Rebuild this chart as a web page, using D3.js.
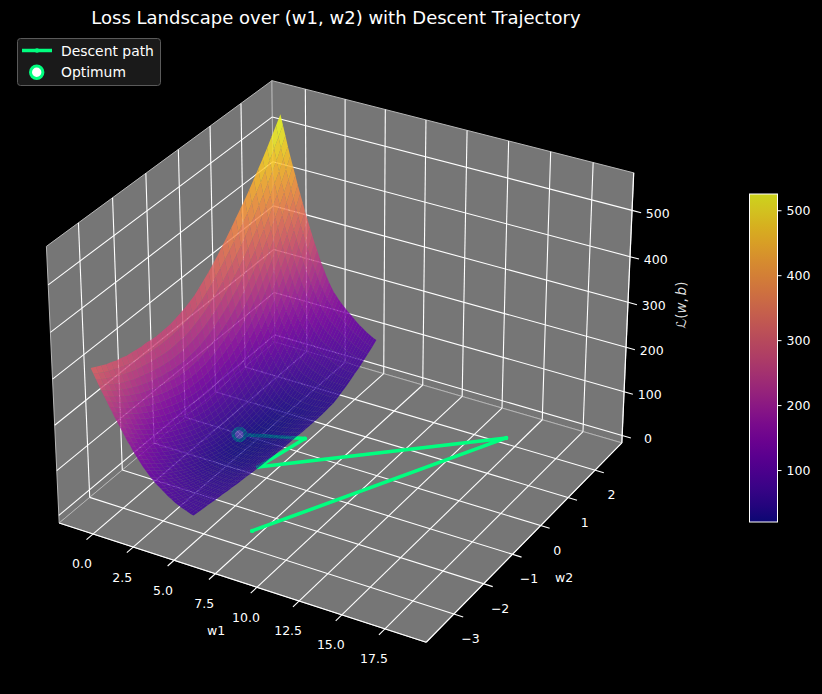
<!DOCTYPE html>
<html>
<head>
<meta charset="utf-8">
<script src="https://cdn.jsdelivr.net/npm/d3@7"></script>
<style>
body { margin: 0; background: #000; }
text { font-family: "DejaVu Sans", sans-serif; fill: #fff; }
</style>
</head>
<body>
<div id="graph"></div>
<script>
var w = 822, h = 694;

var w1Ticks = [0, 2.5, 5, 7.5, 10, 12.5, 15, 17.5];
var w2Ticks = [-3, -2, -1, 0, 1, 2];
var lossTicks = [0, 100, 200, 300, 400, 500];
var barTicks = [100, 200, 300, 400, 500];

var pathW1 = [7.42, 14.53, 4.42, 5.12, 2.53];
var pathW2 = [-2.72, 1.96, -0.97, 0.22, -0.59];
var pathLoss = [0, 0, 0, 0, 30];
var optimum = [2.53, -0.59, 30];

var w1Grid = [-0.46,-0.31,-0.16,-0.01,0.14,0.30,0.45,0.60,0.75,0.90,1.05,1.20,1.35,1.50,1.65,1.81,1.96,2.11,2.26,2.41,2.56,2.71,2.86,3.01,3.16,3.32,3.47,3.62,3.77,3.92,4.07,4.22,4.37,4.52,4.67,4.83,4.98,5.13,5.28,5.43,5.58];
var w2Grid = [-3.58,-3.43,-3.28,-3.13,-2.98,-2.83,-2.68,-2.53,-2.38,-2.23,-2.08,-1.93,-1.78,-1.63,-1.48,-1.33,-1.18,-1.03,-0.88,-0.73,-0.58,-0.42,-0.27,-0.12,0.03,0.18,0.33,0.48,0.63,0.78,0.93,1.08,1.23,1.38,1.53,1.68,1.83,1.98,2.13,2.28,2.43];

// loss, one row per w2, one column per w1
var lossGrid = [
	[322,311,301,290,280,270,260,250,241,231,222,213,204,195,186,178,169,162,154,147,140,134,128,122,117,112,108,104,100,96,92,89,85,82,80,77,75,73,71,69,68],
	[316,304,293,282,271,260,250,240,230,220,211,202,192,184,175,167,159,151,144,137,130,124,119,113,109,104,100,96,93,89,86,83,80,77,75,73,71,70,68,67,66],
	[310,297,285,274,262,251,240,230,220,210,200,191,182,173,164,156,148,141,134,127,121,115,110,105,101,96,93,89,86,83,80,77,75,73,71,69,68,66,66,65,64],
	[304,291,279,266,254,243,231,220,210,200,190,180,171,163,154,146,138,131,124,118,112,106,101,97,93,89,86,83,80,77,75,72,70,68,67,65,64,64,63,63,63],
	[300,286,272,259,247,235,223,212,201,190,180,171,162,153,144,136,129,122,115,109,103,98,93,89,85,82,79,76,74,72,69,67,66,64,63,62,61,61,61,61,61],
	[295,281,267,253,240,227,215,204,192,182,171,162,152,144,135,127,120,113,107,101,95,90,86,82,78,75,73,70,68,66,65,63,61,60,59,59,58,58,58,59,59],
	[292,276,262,247,234,221,208,196,184,173,163,153,144,135,127,119,112,105,99,93,88,83,79,75,72,69,67,65,63,61,60,58,57,56,56,56,55,56,56,57,58],
	[288,272,257,242,228,214,201,189,177,166,155,145,136,127,119,111,104,97,91,86,81,76,72,69,66,63,61,60,58,57,55,54,54,53,53,53,53,53,54,55,56],
	[286,269,253,238,223,209,195,182,170,159,148,138,128,119,111,104,97,90,84,79,74,69,66,63,60,58,56,54,52,51,51,50,50,50,50,50,50,51,52,53,55],
	[284,266,250,234,218,204,190,177,164,152,141,131,121,112,104,97,90,84,78,73,68,63,60,57,55,53,51,50,49,48,48,47,47,47,47,47,48,49,50,52,53],
	[282,264,247,230,214,199,185,171,158,146,135,124,115,106,98,90,84,78,72,67,62,58,54,52,50,48,47,46,45,44,44,44,44,44,45,45,46,47,48,50,52],
	[282,262,244,227,211,195,180,166,153,141,129,119,109,100,92,84,78,72,66,61,57,53,49,47,45,43,42,42,41,41,41,41,41,41,42,42,44,45,47,49,51],
	[280,261,242,224,207,191,176,162,148,136,124,113,103,94,86,79,72,66,61,56,52,48,45,42,41,39,39,38,38,38,38,38,38,38,39,40,42,43,45,47,49],
	[279,259,240,222,205,188,173,158,144,131,118,108,98,89,81,74,67,61,56,51,47,43,40,38,36,35,35,35,35,35,35,35,35,36,37,38,40,41,43,46,48],
	[279,259,239,220,202,185,169,154,140,127,115,103,93,84,76,69,63,57,52,47,43,39,36,34,33,32,32,32,32,32,32,32,32,33,34,36,38,40,42,44,47],
	[280,259,238,219,201,183,167,152,137,123,111,99,89,80,72,65,58,52,47,43,39,35,33,31,30,29,29,29,29,29,29,30,30,31,32,33,35,38,41,43,46],
	[281,260,239,219,200,182,165,149,134,121,108,96,86,77,69,61,55,49,44,40,36,32,30,28,27,26,26,26,26,27,27,28,29,30,32,33,35,37,39,42,45],
	[284,261,240,219,200,181,164,148,133,119,106,94,83,74,66,59,52,47,42,37,33,30,27,26,25,24,24,25,25,26,26,27,28,29,30,32,34,36,38,41,44],
	[287,264,241,221,201,182,164,148,132,118,104,92,82,72,64,57,50,45,40,35,31,28,25,24,23,23,23,23,24,24,25,26,27,28,29,31,33,35,38,41,44],
	[291,267,244,223,203,183,165,148,132,118,104,92,81,72,63,56,49,44,39,34,30,27,24,22,22,22,22,22,23,24,24,25,26,27,29,30,32,34,37,40,42],
	[296,272,249,227,206,186,167,150,134,119,105,92,81,72,63,56,49,44,39,34,30,27,24,21,21,21,21,22,22,23,24,25,26,27,28,30,32,34,36,39,42],
	[302,277,254,231,210,190,171,153,136,121,107,94,83,73,64,57,50,44,39,35,30,27,24,22,21,21,22,22,23,23,24,25,26,27,28,30,32,34,36,39,42],
	[310,284,260,237,215,194,175,157,140,124,109,96,85,75,66,58,51,46,40,36,31,28,25,23,22,22,22,22,23,23,24,25,25,26,28,29,31,33,36,38,41],
	[319,292,267,243,221,200,180,161,144,127,112,99,87,77,68,60,53,47,42,37,33,29,26,24,23,23,23,23,24,24,25,26,27,28,29,31,33,35,36,38,40],
	[328,301,275,251,228,206,186,166,148,132,117,103,91,80,71,62,56,50,44,39,35,31,28,26,24,24,24,24,25,25,26,27,28,29,30,31,33,34,35,37,40],
	[338,311,284,259,236,213,192,173,154,137,121,107,95,84,74,65,58,52,46,41,37,33,30,28,26,25,25,25,26,26,26,27,28,29,31,32,34,35,37,38,40],
	[349,321,294,269,244,221,200,180,161,144,128,113,100,89,79,70,62,55,49,44,40,36,33,31,29,28,27,27,27,27,28,28,29,30,31,32,33,34,36,38,40],
	[361,332,305,279,254,231,209,188,169,151,135,120,106,95,85,76,68,61,55,50,45,41,37,35,33,31,30,30,30,29,30,30,30,31,31,33,34,35,36,38,40],
	[373,344,316,290,265,241,219,198,178,160,144,128,115,103,93,84,76,69,63,57,51,46,42,39,36,35,33,33,33,33,33,33,33,33,34,35,36,37,38,39,41],
	[385,356,328,302,276,252,230,209,189,171,154,138,125,113,102,93,84,76,70,64,58,53,49,45,43,41,40,39,38,37,37,36,36,36,36,37,37,38,39,40,42],
	[398,369,341,314,289,265,242,221,201,182,165,149,135,123,112,102,92,85,78,72,66,60,56,52,49,46,45,43,42,41,41,40,40,40,40,41,41,41,42,42,43],
	[411,382,354,327,302,278,255,234,214,195,178,162,148,135,124,114,105,96,89,82,75,69,65,61,58,55,53,51,49,48,47,46,45,45,45,45,45,45,46,47,47],
	[424,395,368,341,316,292,270,249,228,210,192,176,161,148,137,126,117,108,100,92,85,79,74,70,66,64,62,60,58,57,55,54,52,51,51,51,51,50,51,51,52],
	[438,410,383,356,332,308,285,264,244,225,207,191,176,163,151,140,130,120,112,104,97,90,85,80,76,73,71,68,66,65,63,61,59,58,57,57,56,56,56,56,56],
	[453,425,398,372,348,324,302,281,261,242,224,208,192,179,166,155,144,134,125,117,109,102,96,91,87,84,81,78,76,74,71,69,67,66,64,63,62,62,62,62,62],
	[468,440,414,389,365,342,319,298,279,260,242,225,210,196,183,171,159,149,139,131,122,115,108,103,99,96,92,89,86,83,81,78,76,74,72,71,69,68,68,68,68],
	[483,457,431,406,383,360,338,317,298,279,261,244,229,214,200,188,176,165,155,145,137,129,122,116,111,107,103,100,97,94,91,88,85,83,80,78,77,75,75,74,73],
	[499,473,449,425,401,379,358,337,318,299,281,264,249,234,219,206,194,182,171,161,152,144,136,130,125,120,116,112,109,105,102,98,95,92,89,87,85,83,82,81,80],
	[516,491,467,444,421,400,379,359,339,321,303,286,270,254,240,226,213,200,189,178,168,159,152,145,139,134,129,125,121,117,113,110,106,102,99,96,94,92,90,88,87],
	[533,509,486,464,442,421,401,381,362,344,326,309,292,276,261,247,233,220,207,196,186,176,168,161,155,149,144,139,135,130,126,121,117,113,110,106,103,100,98,96,94],
	[550,528,506,484,464,443,424,404,386,368,350,333,316,300,284,269,254,240,227,215,204,194,185,178,171,165,159,154,149,144,139,134,129,125,121,117,113,110,107,104,102]
];

var xLim = [-2.12, 19.86], yLim = [-3.915, 3.025], zLim = [-17, 580];
var k = 1.8294640721620434 / Math.sqrt(41);
var xBox = d3.scaleLinear().domain(xLim).range([0, 4 * k]);
var yBox = d3.scaleLinear().domain(yLim).range([0, 4 * k]);
var zBox = d3.scaleLinear().domain(zLim).range([0, 3 * k]);
var sx = d3.scaleLinear().domain([0, 1]).range([345.5, 345.5 + 3680]);
var sy = d3.scaleLinear().domain([0, 1]).range([348.5, 348.5 - 3680]);

// elev 30, azim -60 camera
var cx = 2 * k, cy = 2 * k, cz = 1.5 * k;
function view(a, b, c) {
	var dx = xBox(a) - cx, dy = yBox(b) - cy, dz = zBox(c) - cz;
	return {
		x: 0.8660254 * dx + 0.5 * dy,
		y: -0.25 * dx + 0.4330127 * dy + 0.8660254 * dz,
		z: 0.4330127 * dx - 0.75 * dy + 0.5 * dz
	};
}
function proj(a, b, c) {
	var v = view(a, b, c);
	var d = 10 - v.z;
	return [sx(v.x / d), sy(v.y / d)];
}
var line = d3.line();

var svg = d3.select("#graph").append("svg")
	.attr("width", w)
	.attr("height", h)
	.style("display", "block");
svg.append("rect").attr("width", w).attr("height", h).attr("fill", "#000");

function pane(pts) {
	svg.append("path")
		.attr("d", line(pts.map(function(p) { return proj(p[0], p[1], p[2]); })) + "Z")
		.attr("fill", "#767676")
		.attr("stroke", "#b4b4b4")
		.attr("stroke-width", 1);
}
var x0 = xLim[0], x1 = xLim[1], y0 = yLim[0], y1 = yLim[1], z0 = zLim[0], z1 = zLim[1];
pane([[x0,y0,z0],[x0,y1,z0],[x0,y1,z1],[x0,y0,z1]]);
pane([[x0,y1,z0],[x1,y1,z0],[x1,y1,z1],[x0,y1,z1]]);
pane([[x0,y0,z0],[x1,y0,z0],[x1,y1,z0],[x0,y1,z0]]);

function seg(a, b, sw) {
	svg.append("path")
		.attr("d", line([proj(a[0],a[1],a[2]), proj(b[0],b[1],b[2])]))
		.attr("stroke", "#fff")
		.attr("stroke-width", sw || 1.1)
		.attr("fill", "none");
}
function label(txt, x, y, size) {
	return svg.append("text").text(txt)
		.attr("x", x)
		.attr("y", y)
		.attr("text-anchor", "middle")
		.attr("font-size", size || 12.5);
}
var xStub = (x1 - x0) * 0.024, yStub = (y1 - y0) * 0.028;
w1Ticks.forEach(function(t) {
	seg([t,y0 - yStub,z0], [t,y1,z0]);
	seg([t,y1,z0], [t,y1,z1]);
	var p = proj(t, y0, z0);
	label(d3.format(".1f")(t), p[0] - 11, p[1] + 34.5);
});
w2Ticks.forEach(function(t) {
	seg([x0,t,z0], [x1 + xStub,t,z0]);
	seg([x0,t,z0], [x0,t,z1]);
	var p = proj(x1, t, z0);
	label(t < 0 ? "\u2212" + (-t) : t, p[0] + 16.5, p[1] + 29);
});
lossTicks.forEach(function(t) {
	seg([x0,y0,t], [x0,y1,t]);
	seg([x0,y1,t], [x1,y1,t]);
	seg([x1,y1,t], [x1 + xStub,y1,t]);
	var p = proj(x1, y1, t);
	label(t, p[0] + 25.7, p[1] + 7.5);
});
seg([x0,y0,z0], [x1,y0,z0], 1.2);
seg([x1,y0,z0], [x1,y1,z0], 1.2);
seg([x1,y1,z0], [x1,y1,z1], 1.2);

// descent path goes under the surface, second faint pass shows it through
var pathPts = pathW1.map(function(d, i) { return proj(d, pathW2[i], pathLoss[i]); });
var op = proj(optimum[0], optimum[1], optimum[2]);
function drawPath(opacity) {
	var g = svg.append("g").attr("opacity", opacity);
	g.append("path")
		.attr("d", line(pathPts))
		.attr("fill", "none")
		.attr("stroke", "#00ff7f")
		.attr("stroke-width", 3.5)
		.attr("stroke-linejoin", "round");
	g.selectAll("circle.pp").data(pathPts).enter().append("circle")
		.attr("class", "pp")
		.attr("cx", function(d) { return d[0]; })
		.attr("cy", function(d) { return d[1]; })
		.attr("r", 2.2)
		.attr("fill", "#00ff7f");
	g.append("circle")
		.attr("cx", op[0])
		.attr("cy", op[1])
		.attr("r", 6)
		.attr("fill", "#fff")
		.attr("stroke", "#00ff7f")
		.attr("stroke-width", 3.5);
}
drawPath(1);

// surface cells, far ones first
var color = d3.scaleSequential(d3.interpolatePlasma).domain([20, 525]);
var cells = [];
for (var j = 0; j < w2Grid.length - 1; j++) {
	for (var i = 0; i < w1Grid.length - 1; i++) {
		var c = [[i,j],[i+1,j],[i+1,j+1],[i,j+1]].map(function(q) {
			return [w1Grid[q[0]], w2Grid[q[1]], lossGrid[q[1]][q[0]]];
		});
		cells.push({
			pts: c.map(function(q) { return proj(q[0], q[1], q[2]); }),
			depth: d3.mean(c, function(q) { return view(q[0], q[1], q[2]).z; }),
			val: d3.mean(c, function(q) { return q[2]; })
		});
	}
}
cells.sort(function(a, b) { return a.depth - b.depth; });
svg.selectAll("path.cell").data(cells).enter().append("path")
	.attr("class", "cell")
	.attr("d", function(d) { return line(d.pts) + "Z"; })
	.attr("fill", function(d) { return color(d.val); })
	.attr("fill-opacity", 0.85);
drawPath(0.12);

// colorbar
var barY = d3.scaleLinear().domain([20, 525]).range([522, 194]);
var grad = svg.append("defs").append("linearGradient")
	.attr("id", "bar")
	.attr("x1", 0).attr("y1", 1)
	.attr("x2", 0).attr("y2", 0);
d3.range(0, 1.01, 0.05).forEach(function(t) {
	grad.append("stop")
		.attr("offset", t)
		.attr("stop-color", d3.interpolatePlasma(t))
		.attr("stop-opacity", 0.85);
});
svg.append("rect")
	.attr("x", 749.5).attr("y", 194)
	.attr("width", 28).attr("height", 328)
	.attr("fill", "url(#bar)")
	.attr("stroke", "#fff")
	.attr("stroke-width", 1);
svg.append("g")
	.attr("transform", "translate(777.5,0)")
	.call(d3.axisRight(barY).tickValues(barTicks).tickSize(4).tickPadding(5))
	.call(function(g) {
		g.select(".domain").remove();
		g.selectAll("line").attr("stroke", "#fff");
		g.selectAll("text").attr("font-size", 12.5).attr("font-family", "DejaVu Sans").attr("fill", "#fff");
	});

// title and axis names
label("Loss Landscape over (w1, w2) with Descent Trajectory", 336, 24, 18);
label("w1", 216, 634.5);
label("w2", 564, 581.5);
var zl = svg.append("text")
	.attr("transform", "translate(686,305) rotate(-90)")
	.attr("text-anchor", "middle")
	.attr("font-size", 13.5)
	.style("fill", "#ddd");
zl.append("tspan").text("\u2112(");
zl.append("tspan").text("w").attr("font-style", "italic");
zl.append("tspan").text(",\u2009");
zl.append("tspan").text("b").attr("font-style", "italic");
zl.append("tspan").text(")");

// legend
var lg = svg.append("g");
lg.append("rect")
	.attr("x", 17.5).attr("y", 38.5)
	.attr("width", 143).attr("height", 47)
	.attr("rx", 3)
	.attr("fill", "#1a1a1a")
	.attr("stroke", "#5a5a5a");
lg.append("line")
	.attr("x1", 22).attr("x2", 52)
	.attr("y1", 50.5).attr("y2", 50.5)
	.attr("stroke", "#00ff7f")
	.attr("stroke-width", 3.5);
lg.append("circle").attr("cx", 37).attr("cy", 50.5).attr("r", 2.2).attr("fill", "#00ff7f");
lg.append("circle")
	.attr("cx", 36.7).attr("cy", 72.3)
	.attr("r", 6.2)
	.attr("fill", "#fff")
	.attr("stroke", "#00ff7f")
	.attr("stroke-width", 3);
lg.append("text").text("Descent path").attr("x", 61).attr("y", 55.5).attr("font-size", 13.9);
lg.append("text").text("Optimum").attr("x", 61).attr("y", 77).attr("font-size", 13.9);
</script>
</body>
</html>
